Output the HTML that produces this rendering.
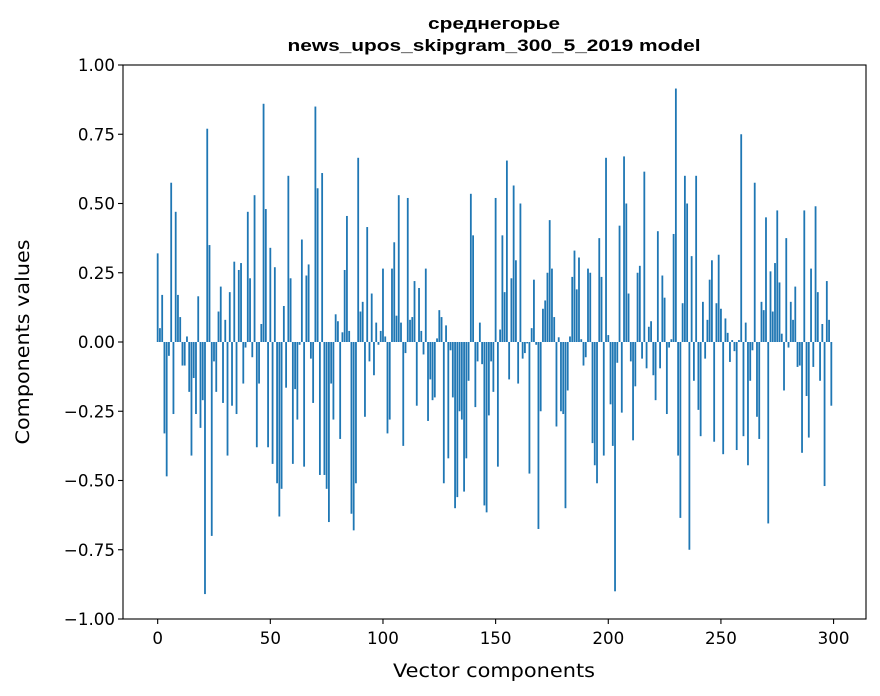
<!DOCTYPE html>
<html><head><meta charset="utf-8"><style>
body{margin:0;background:#fff;}
svg{display:block;font-family:"DejaVu Sans","Liberation Sans",sans-serif;}
</style></head><body>
<svg id="chart" width="880" height="696" viewBox="0 0 880 696" xmlns="http://www.w3.org/2000/svg">
<rect width="880" height="696" fill="#fff"/>
<text x="494" y="29" text-anchor="middle" font-size="17" font-weight="bold" font-family="Liberation Sans, sans-serif" textLength="132" lengthAdjust="spacingAndGlyphs">среднегорье</text>
<text x="494" y="51" text-anchor="middle" font-size="17" font-weight="bold" font-family="Liberation Sans, sans-serif" textLength="413" lengthAdjust="spacingAndGlyphs">news_upos_skipgram_300_5_2019 model</text>
<g id="bars"></g>
<g id="yticks"></g>
<g id="xticks"></g>
<rect x="123" y="65" width="743" height="554" fill="none" stroke="#000" stroke-width="1.1"/>
<text x="494" y="677" text-anchor="middle" font-size="18.5" textLength="202" lengthAdjust="spacingAndGlyphs">Vector components</text>
<text x="0" y="0" transform="translate(29,342) rotate(-90)" text-anchor="middle" font-size="18.5" textLength="205" lengthAdjust="spacingAndGlyphs">Components values</text>
</svg>
<script>
const values = [
0.32,0.05,0.17,-0.33,-0.485,-0.05,0.575,-0.26,0.47,0.17,
0.09,-0.085,-0.085,0.02,-0.18,-0.41,-0.13,-0.26,0.165,-0.31,
-0.21,-0.91,0.77,0.35,-0.70,-0.07,-0.18,0.11,0.2,-0.22,
0.08,-0.41,0.18,-0.23,0.29,-0.26,0.26,0.285,-0.15,-0.02,
0.47,0.23,-0.055,0.53,-0.38,-0.15,0.065,0.86,0.48,-0.38,
0.34,-0.44,0.27,-0.51,-0.63,-0.53,0.13,-0.165,0.60,0.23,
-0.44,-0.17,-0.28,-0.01,0.37,-0.45,0.24,0.28,-0.06,-0.22,
0.85,0.555,-0.48,0.61,-0.48,-0.53,-0.65,-0.15,-0.28,0.10,
0.075,-0.35,0.035,0.26,0.455,0.04,-0.62,-0.68,-0.51,0.665,
0.11,0.145,-0.27,0.415,-0.07,0.175,-0.12,0.07,-0.01,0.04,
0.265,0.02,-0.33,-0.28,0.265,0.36,0.095,0.53,0.07,-0.375,
-0.04,0.52,0.08,0.09,0.22,-0.23,0.195,0.04,-0.045,0.265,
-0.285,-0.135,-0.21,-0.20,0.013,0.115,0.09,-0.51,0.06,-0.42,
-0.03,-0.20,-0.60,-0.56,-0.25,-0.28,-0.54,-0.42,-0.14,0.535,
0.385,-0.235,-0.07,0.07,-0.08,-0.59,-0.615,-0.265,-0.07,-0.18,
0.52,-0.45,0.045,0.385,0.18,0.655,-0.135,0.23,0.565,0.295,
-0.15,0.50,-0.06,-0.04,-0.005,-0.475,0.05,0.225,-0.01,-0.675,
-0.25,0.12,0.15,0.25,0.44,0.265,0.09,-0.305,0.017,-0.25,
-0.26,-0.60,-0.175,0.02,0.235,0.33,0.19,0.305,0.01,-0.085,
-0.055,0.265,0.25,-0.365,-0.445,-0.51,0.375,0.235,-0.41,0.665,
0.025,-0.225,-0.375,-0.90,-0.075,0.42,-0.255,0.67,0.50,0.175,
-0.07,-0.355,-0.16,0.25,0.275,-0.06,0.615,-0.095,0.055,0.075,
-0.12,-0.21,0.40,-0.095,0.24,0.16,-0.26,-0.02,0.01,0.39,
0.915,-0.41,-0.635,0.14,0.60,0.50,-0.75,0.31,-0.14,0.60,
-0.245,-0.34,0.145,-0.06,0.08,0.225,0.295,-0.36,0.14,0.315,
0.12,-0.405,0.085,0.033,-0.072,0.007,-0.033,-0.39,0.007,0.75,
-0.34,0.07,-0.445,-0.14,-0.03,0.575,-0.27,-0.35,0.145,0.115,
0.45,-0.655,0.255,0.11,0.285,0.475,0.215,0.03,-0.175,0.375,
-0.02,0.145,0.08,0.20,-0.09,-0.085,-0.40,0.475,-0.195,-0.345,
0.265,-0.09,0.49,0.18,-0.14,0.065,-0.52,0.22,0.08,-0.23
];
const yTickValues = [1.0,0.75,0.5,0.25,0.0,-0.25,-0.5,-0.75,-1.0];
const yTickLabels = ["1.00","0.75","0.50","0.25","0.00","\u22120.25","\u22120.50","\u22120.75","\u22121.00"];
const xTickValues = [0,50,100,150,200,250,300];
const xTickLabels = ["0","50","100","150","200","250","300"];

const NS="http://www.w3.org/2000/svg";
const X0=123,X1=866,Y0=65,Y1=619;
const xmin=-15.39,xmax=314.39,ymin=-1,ymax=1;
function xs(v){return X0+(v-xmin)/(xmax-xmin)*(X1-X0);}
function ys(v){return Y1-(v-ymin)/(ymax-ymin)*(Y1-Y0);}
function el(t,a){const e=document.createElementNS(NS,t);for(const k in a)e.setAttribute(k,a[k]);return e;}

const bars=document.getElementById('bars');
values.forEach((v,i)=>{
  const xa=xs(i-0.4),xb=xs(i+0.4);
  const y=ys(Math.max(v,0)),h=Math.abs(ys(v)-ys(0));
  const r=el('rect',{x:xa,y:y,width:xb-xa,height:Math.max(h,0.3),fill:'#1f77b4'});
  
  
  bars.appendChild(r);
});

const yg=document.getElementById('yticks');
yTickValues.forEach((v,i)=>{
  const y=ys(v);
  const l=el('line',{x1:X0-5,x2:X0,y1:y,y2:y,stroke:'#000','stroke-width':1.1});
  
  
  yg.appendChild(l);
  const t=el('text',{x:X0-8,y:y+6,'text-anchor':'end','font-size':'16.7'});
  
  
  t.textContent=yTickLabels[i];yg.appendChild(t);
});
const xg=document.getElementById('xticks');
xTickValues.forEach((v,i)=>{
  const x=xs(v);
  const l=el('line',{x1:x,x2:x,y1:Y1,y2:Y1+5,stroke:'#000','stroke-width':1.1});
  
  
  xg.appendChild(l);
  const t=el('text',{x:x,y:Y1+25,'text-anchor':'middle','font-size':'16.7'});
  
  
  t.textContent=xTickLabels[i];xg.appendChild(t);
});
</script>
</body></html>
